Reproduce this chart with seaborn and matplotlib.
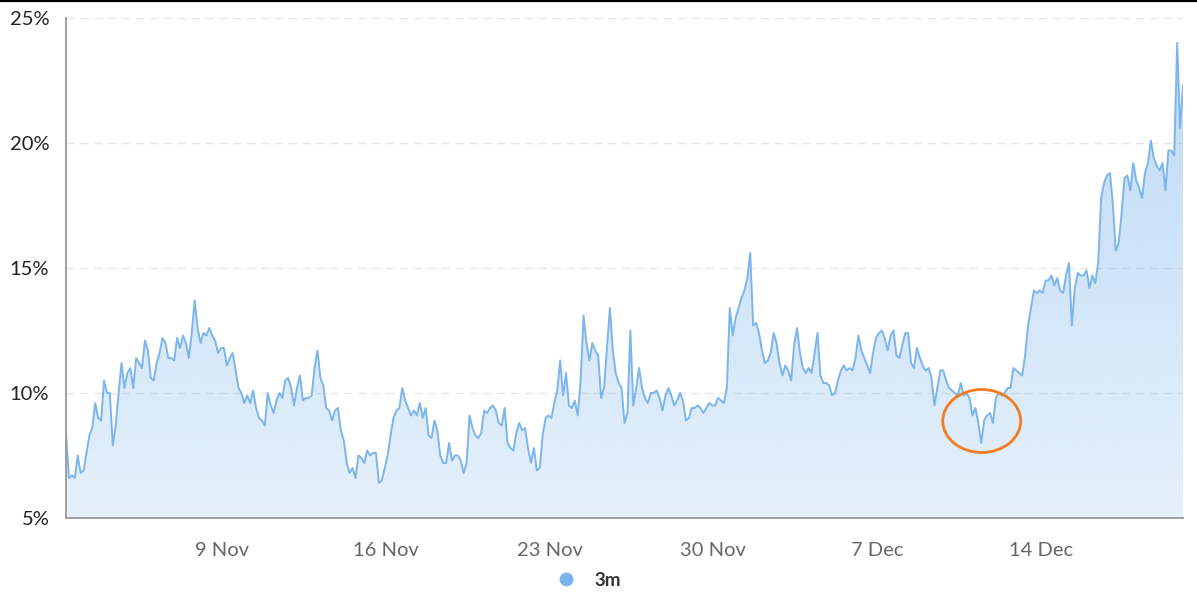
import numpy as np
import pandas as pd
import matplotlib
matplotlib.use("Agg")
import matplotlib.pyplot as plt
import matplotlib.dates as mdates
import matplotlib.colors as mcolors
from matplotlib.patches import Ellipse
from matplotlib.lines import Line2D
import seaborn as sns

# ---------------- data ----------------
series_name = "3m"
start_time = "2020-11-02 08:00"
step = "3h"
rate_values = [
    8.4, 6.6, 6.7, 6.6, 7.5, 6.8, 6.9, 7.6, 8.3, 8.6,
    9.6, 9.0, 8.9, 10.5, 10.0, 10.0, 7.9, 8.7, 10.0, 11.2,
    10.2, 10.8, 11.0, 10.2, 11.4, 11.2, 11.0, 12.1, 11.7, 10.6,
    10.5, 11.2, 11.6, 12.2, 12.0, 11.4, 11.4, 11.3, 12.2, 11.8,
    12.3, 12.0, 11.4, 12.4, 13.7, 12.6, 12.0, 12.4, 12.3, 12.6,
    12.3, 12.1, 11.6, 11.8, 11.8, 11.1, 11.4, 11.6, 10.9, 10.2,
    10.0, 9.6, 9.9, 9.6, 10.1, 9.4, 9.0, 8.9, 8.7, 10.0,
    9.5, 9.2, 9.7, 10.0, 9.8, 10.5, 10.6, 10.2, 9.5, 10.2,
    10.7, 9.7, 9.8, 9.8, 9.9, 11.0, 11.7, 10.6, 10.3, 9.4,
    9.3, 8.9, 9.3, 9.4, 8.5, 8.1, 7.2, 6.8, 7.0, 6.6,
    7.5, 7.4, 7.2, 7.7, 7.5, 7.6, 7.6, 6.4, 6.5, 7.0,
    7.5, 8.3, 9.0, 9.3, 9.4, 10.2, 9.7, 9.4, 9.1, 9.3,
    9.1, 9.6, 9.0, 9.4, 8.3, 8.2, 8.9, 8.5, 7.5, 7.2,
    7.2, 8.0, 7.3, 7.5, 7.5, 7.3, 6.8, 7.2, 9.1, 8.6,
    8.3, 8.2, 8.4, 9.3, 9.2, 9.4, 9.5, 9.3, 8.8, 8.7,
    9.4, 8.0, 7.8, 7.7, 8.4, 8.8, 8.5, 8.6, 7.8, 7.2,
    7.8, 6.9, 7.0, 8.3, 9.0, 9.1, 9.0, 9.6, 10.1, 11.3,
    9.9, 10.8, 9.5, 9.4, 9.7, 9.1, 10.5, 13.1, 12.0, 11.3,
    12.0, 11.7, 11.5, 9.8, 10.2, 11.8, 13.4, 11.7, 10.8, 10.4,
    10.2, 8.8, 9.2, 12.5, 9.5, 10.2, 11.0, 10.2, 9.8, 9.6,
    10.0, 10.0, 10.1, 9.8, 9.3, 9.9, 10.2, 9.9, 9.5, 9.7,
    10.0, 9.7, 8.9, 9.0, 9.4, 9.4, 9.5, 9.4, 9.2, 9.4,
    9.6, 9.5, 9.5, 9.8, 9.7, 9.6, 10.2, 13.4, 12.3, 13.0,
    13.4, 13.8, 14.1, 14.6, 15.6, 12.7, 12.8, 12.4, 11.7, 11.2,
    11.3, 11.6, 12.4, 12.0, 11.2, 10.7, 11.1, 10.9, 10.5, 11.9,
    12.6, 11.6, 11.0, 10.8, 11.0, 10.8, 11.6, 12.4, 10.7, 10.4,
    10.4, 10.3, 9.9, 10.0, 10.5, 10.9, 11.1, 10.9, 11.0, 10.9,
    11.4, 12.3, 11.7, 11.4, 11.1, 10.8, 11.6, 12.2, 12.4, 12.5,
    12.2, 11.7, 12.3, 12.5, 11.5, 11.4, 11.9, 12.4, 12.4, 11.2,
    11.0, 11.8, 11.4, 11.1, 10.9, 11.0, 10.6, 9.5, 10.2, 10.9,
    10.9, 10.5, 10.2, 10.1, 10.0, 9.9, 10.4, 9.9, 10.0, 9.8,
    9.1, 9.4, 8.8, 8.0, 8.9, 9.1, 9.2, 8.8, 9.8, 10.0,
    9.9, 10.0, 10.2, 10.2, 11.0, 10.9, 10.8, 10.7, 11.5, 12.7,
    13.4, 14.1, 14.0, 14.1, 14.0, 14.5, 14.5, 14.7, 14.3, 14.6,
    14.1, 14.0, 14.7, 15.2, 12.7, 14.2, 14.8, 14.7, 14.7, 14.9,
    14.2, 14.7, 14.4, 15.2, 17.8, 18.4, 18.7, 18.8, 17.6, 15.7,
    16.0, 17.2, 18.6, 18.7, 18.1, 19.2, 18.5, 18.2, 17.8, 18.8,
    19.2, 20.1, 19.4, 19.1, 18.9, 19.2, 18.1, 19.7, 19.7, 19.5,
    24.0, 20.6, 22.3,
]
y_ticks = [5, 10, 15, 20, 25]
x_tick_dates = ["2020-11-09", "2020-11-16", "2020-11-23", "2020-11-30",
                "2020-12-07", "2020-12-14"]
highlight_center = ("2020-12-11 11:30", 8.88)   # annotated dip
highlight_days = 3.33
highlight_pct = 2.52

# ---------------- styling ----------------
LINE = "#7cb5ec"
AXIS = "#999999"

dates = pd.date_range(start_time, periods=len(rate_values), freq=step)
df = pd.DataFrame({"date": dates, "rate": rate_values})

sns.set_style("white")
plt.rcParams["font.family"] = ["Lato", "DejaVu Sans"]

W, H = 1197, 596
fig = plt.figure(figsize=(W / 100, H / 100), dpi=100)
ax = fig.add_axes([66 / W, 78 / H, 1117 / W, 500 / H])

x0 = mdates.date2num(dates[0])
x1 = mdates.date2num(dates[-1])

# gradient area fill clipped to the area under the series
poly = ax.fill_between(df["date"], df["rate"], y_ticks[0],
                       facecolor="none", edgecolor="none")
n = 256
rgba = np.zeros((n, 1, 4))
rgba[..., :3] = mcolors.to_rgb(LINE)
rgba[:, 0, 3] = np.linspace(0.2, 0.5, n)
im = ax.imshow(rgba, extent=[x0, x1, y_ticks[0], 24.5], origin="lower",
               aspect="auto", interpolation="bilinear", zorder=1)
im.set_clip_path(poly.get_paths()[0], transform=ax.transData)

sns.lineplot(data=df, x="date", y="rate", ax=ax, color=LINE, lw=1.4,
             zorder=3, legend=False)

ax.set_xlim(x0, x1)
ax.set_ylim(y_ticks[0], y_ticks[-1])
ax.set_yticks(y_ticks)
ax.set_yticklabels([f"{t}%" for t in y_ticks])
ax.set_xticks([mdates.date2num(pd.Timestamp(d)) for d in x_tick_dates])
ax.xaxis.set_major_formatter(mdates.DateFormatter("%-d %b"))
ax.set_xlabel("")
ax.set_ylabel("")

ax.yaxis.grid(True, color="#e6e6e6", linestyle=(0, (6, 4)), lw=1)
ax.xaxis.grid(False)
ax.set_axisbelow(True)
for s in ["top", "right"]:
    ax.spines[s].set_visible(False)
for s in ["left", "bottom"]:
    ax.spines[s].set_color(AXIS)
    ax.spines[s].set_linewidth(1.3)
    ax.spines[s].set_zorder(5)

ax.tick_params(axis="y", length=7, width=1.2, color=AXIS, labelsize=14.5,
               labelcolor="#222222", pad=5)
ax.tick_params(axis="x", length=7, width=1.2, color=AXIS, labelsize=14.5,
               labelcolor="#666666", pad=10)

# highlight ellipse
ell = Ellipse((mdates.date2num(pd.Timestamp(highlight_center[0])), highlight_center[1]),
              width=highlight_days, height=highlight_pct, fill=False,
              edgecolor="#f47b20", lw=2, zorder=6)
ax.add_patch(ell)

# legend
handle = Line2D([], [], marker="o", ls="", color=LINE, markersize=9)
fig.legend([handle], [series_name], loc="center",
           bbox_to_anchor=(584 / W, 1 - 580 / H), frameon=False,
           prop=dict(weight="bold", size=13.5), handletextpad=0.5,
           labelcolor="#333333")

# top border line
fig.add_artist(Line2D([0, 1], [1 - 0.8 / H, 1 - 0.8 / H], transform=fig.transFigure,
                      color="black", lw=1.6))

fig.savefig("out.png", dpi=100)
